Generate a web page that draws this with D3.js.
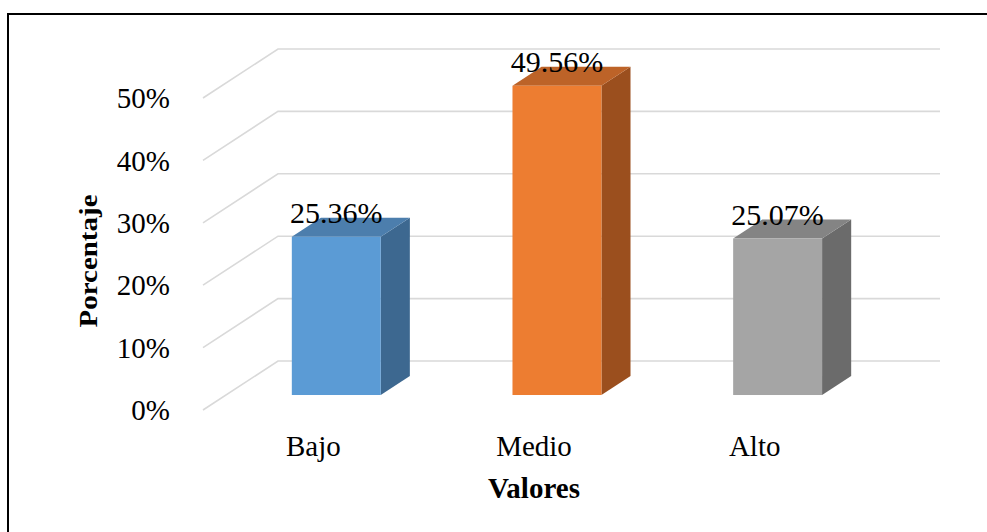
<!DOCTYPE html>
<html>
<head>
<meta charset="utf-8">
<script src="https://cdn.jsdelivr.net/npm/d3@7"></script>
<style>
  html, body { margin: 0; padding: 0; background: #fff; }
  svg text { font-family: "Liberation Serif", "Times New Roman", Times, serif; }
</style>
</head>
<body>
<svg id="chart" width="987" height="532"></svg>
<script>
// Data
const categories = ["Bajo", "Medio", "Alto"];
const values = [25.36, 49.56, 25.07];
const tickValues = [0, 10, 20, 30, 40, 50];
const frontColors = ["#5B9BD5", "#ED7D31", "#A5A5A5"];
const topColors = ["#4C7EAD", "#BD6328", "#848484"];
const sideColors = ["#3D6890", "#9B4F1E", "#6B6B6B"];
const xTitle = "Valores";
const yTitle = "Porcentaje";

const FONT = "'Liberation Serif', 'Times New Roman', Times, serif";
const svg = d3.select("#chart").attr("font-family", FONT);

// Outer frame
svg.append("path")
  .attr("d", "M8,540 V14 H995")
  .attr("fill", "none")
  .attr("stroke", "#000")
  .attr("stroke-width", 2);

// 3D plot geometry: front-left corner of the floor and the depth offset
const frontX = 203, frontY = 410;
const plotW = 662;
const depthX = 75, depthY = -49;
const barFront = 0.306;   // bars start this far into the depth
const barDepth = 0.388;   // share of the depth a bar occupies

const y = d3.scaleLinear().domain([0, 50]).range([0, 312]);
const x = d3.scaleBand().domain(categories).range([0, plotW])
  .paddingInner(0.597).paddingOuter(0.2985);

// Gridlines: diagonal on the side wall, horizontal on the back wall
const grid = svg.append("g").attr("stroke", "#D9D9D9").attr("stroke-width", 1.6).attr("fill", "none");
tickValues.forEach(t => {
  const fy = frontY - y(t);
  grid.append("path")
    .attr("d", `M${frontX},${fy} L${frontX + depthX},${fy + depthY} H${frontX + depthX + plotW}`);
});

// Y tick labels
svg.append("g").selectAll("text").data(tickValues).join("text")
  .attr("x", 170)
  .attr("y", t => frontY - y(t))
  .attr("dy", "0.35em")
  .attr("text-anchor", "end")
  .attr("font-family", FONT)
  .attr("font-size", 29)
  .text(t => t + "%");

// Bars
const bx0 = frontX + barFront * depthX;
const by0 = frontY + barFront * depthY;
const bdx = barDepth * depthX, bdy = barDepth * depthY;
const bars = svg.append("g");
categories.forEach((c, i) => {
  const xl = bx0 + x(c), xr = xl + x.bandwidth();
  const yb = by0, yt = by0 - y(values[i]);
  bars.append("polygon")
    .attr("points", [[xr, yt], [xr + bdx, yt + bdy], [xr + bdx, yb + bdy], [xr, yb]].join(" "))
    .attr("fill", sideColors[i]);
  bars.append("polygon")
    .attr("points", [[xl, yt], [xr, yt], [xr + bdx, yt + bdy], [xl + bdx, yt + bdy]].join(" "))
    .attr("fill", topColors[i]);
  bars.append("rect")
    .attr("x", xl).attr("y", yt)
    .attr("width", x.bandwidth()).attr("height", yb - yt)
    .attr("fill", frontColors[i]);
  // value label
  svg.append("text")
    .attr("x", (xl + xr) / 2)
    .attr("y", yt - 14)
    .attr("text-anchor", "middle")
    .attr("font-family", FONT)
    .attr("font-size", 30)
    .text(values[i].toFixed(2) + "%");
});

// Category labels along the front edge of the floor
svg.append("g").selectAll("text").data(categories).join("text")
  .attr("x", c => frontX + x(c) + x.bandwidth() / 2)
  .attr("y", 456)
  .attr("text-anchor", "middle")
  .attr("font-family", FONT)
  .attr("font-size", 29)
  .text(c => c);

// Axis titles
svg.append("text")
  .attr("x", frontX + plotW / 2)
  .attr("y", 498)
  .attr("text-anchor", "middle")
  .attr("font-family", FONT)
  .attr("font-size", 29)
  .attr("font-weight", "bold")
  .text(xTitle);

svg.append("text")
  .attr("transform", "translate(97,261) rotate(-90)")
  .attr("text-anchor", "middle")
  .attr("font-family", FONT)
  .attr("font-size", 26)
  .attr("font-weight", "bold")
  .attr("textLength", 133)
  .attr("lengthAdjust", "spacingAndGlyphs")
  .text(yTitle);
</script>
</body>
</html>
